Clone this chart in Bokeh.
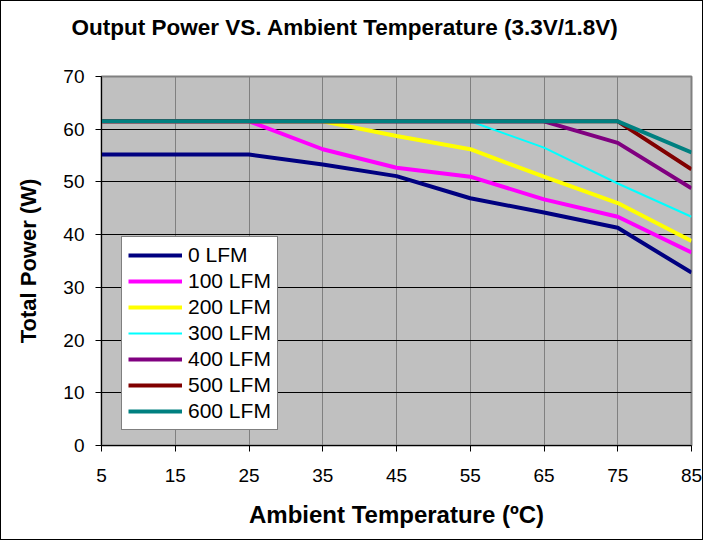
from bokeh.plotting import figure
from bokeh.models import Legend, LegendItem, FixedTicker, Range1d, Title
from bokeh.embed import file_html
from bokeh.resources import INLINE

temps = [5, 15, 25, 35, 45, 55, 65, 75, 85]
lfm0 = [55.2, 55.2, 55.2, 53.3, 51.1, 46.9, 44.2, 41.3, 32.8]
lfm100 = [61.5, 61.5, 61.5, 56.2, 52.7, 51.0, 46.7, 43.4, 36.6]
lfm200 = [61.5, 61.5, 61.5, 61.5, 58.7, 56.2, 51.0, 46.0, 38.8]
lfm300 = [61.5, 61.5, 61.5, 61.5, 61.5, 61.5, 56.5, 49.7, 43.4]
lfm400 = [61.5, 61.5, 61.5, 61.5, 61.5, 61.5, 61.5, 57.4, 48.8]
lfm500 = [61.5, 61.5, 61.5, 61.5, 61.5, 61.5, 61.5, 61.5, 52.4]
lfm600 = [61.5, 61.5, 61.5, 61.5, 61.5, 61.5, 61.5, 61.5, 55.6]
series_names = ["0 LFM", "100 LFM", "200 LFM", "300 LFM", "400 LFM", "500 LFM", "600 LFM"]
y_ticks = [0, 10, 20, 30, 40, 50, 60, 70]
title_text = "Output Power VS. Ambient Temperature (3.3V/1.8V)"

series = [lfm0, lfm100, lfm200, lfm300, lfm400, lfm500, lfm600]
colors = ["#000080", "#FF00FF", "#FFFF00", "#00FFFF", "#800080", "#800000", "#008080"]
widths = [4, 4, 4, 2, 4, 4, 4]

FONT = "Liberation Sans"
W, H = 703, 540
LEFT, RIGHT, TOP, BOTTOM = 100, 13, 75, 96

p = figure(width=W, height=H, output_backend="svg", toolbar_location=None,
           x_range=Range1d(temps[0], temps[-1]), y_range=Range1d(y_ticks[0], y_ticks[-1]),
           min_border_left=LEFT, min_border_right=RIGHT, min_border_top=TOP, min_border_bottom=BOTTOM,
           x_axis_label="Ambient Temperature (ºC)", y_axis_label="Total Power (W)")
p.styles = {"border": "1px solid black"}

p.background_fill_color = "#C0C0C0"
p.border_fill_color = "white"
p.outline_line_color = "#808080"
p.outline_line_width = 2

p.xaxis.ticker = FixedTicker(ticks=temps)
p.yaxis.ticker = FixedTicker(ticks=y_ticks)
for ax in (p.xaxis[0], p.yaxis[0]):
    ax.axis_line_color = "black"
    ax.major_tick_line_color = "black"
    ax.major_tick_out = 6
    ax.major_tick_in = 0
    ax.minor_tick_line_color = None
    ax.major_label_text_font = FONT
    ax.major_label_text_font_size = "19px"
    ax.major_label_text_color = "black"
    ax.axis_label_text_font = FONT
    ax.axis_label_text_font_style = "bold"
    ax.axis_label_text_color = "black"
p.xaxis.axis_label_text_font_size = "24px"
p.yaxis.axis_label_text_font_size = "22px"
p.xaxis.major_label_standoff = 17
p.xaxis.axis_label_standoff = 16
p.yaxis.major_label_standoff = 11
p.yaxis.axis_label_standoff = 19

p.xgrid.grid_line_color = "#808080"
p.xgrid.grid_line_width = 1
p.ygrid.grid_line_color = "black"
p.ygrid.grid_line_width = 1

items = []
for name, ys, c, w in zip(series_names, series, colors, widths):
    r = p.line(temps, ys, line_color=c, line_width=w)
    items.append(LegendItem(label=name, renderers=[r]))

legend = Legend(items=items, location=(20, 15))
legend.label_text_font = FONT
legend.label_text_font_size = "21px"
legend.label_text_color = "black"
legend.glyph_width = 54
legend.glyph_height = 22
legend.label_height = 22
legend.spacing = 2
legend.padding = 6
legend.margin = 0
legend.label_standoff = 6
legend.border_line_color = "black"
legend.border_line_width = 1
legend.background_fill_color = "white"
legend.background_fill_alpha = 1.0
p.add_layout(legend, "center")

# spacer panel next to the frame, then the real title above it
spacer = Title(text=" ", text_font_size="1px", standoff=34)
p.add_layout(spacer, "above")
main_title = Title(text=title_text, align="left", offset=-30, standoff=0,
                   text_font=FONT, text_font_size="22.5px", text_font_style="bold",
                   text_color="black")
p.add_layout(main_title, "above")

open("out.html", "w").write(file_html(p, INLINE))
